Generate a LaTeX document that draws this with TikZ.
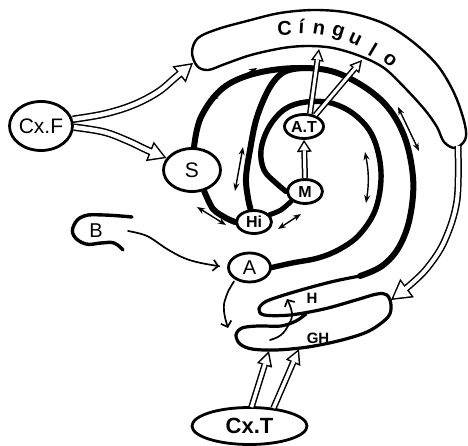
\documentclass[tikz,border=0pt]{standalone}
\usepackage{fontspec}
\setmainfont{Liberation Sans}
\usetikzlibrary{arrows.meta,calc,shapes.geometric}
\pgfdeclarelayer{bg}
\pgfsetlayers{bg,main}
\begin{document}
\begin{tikzpicture}[x=1pt,y=-1pt,
  el/.style={ellipse, draw, line width=2.8pt, fill=white, inner sep=0pt},
  fib/.style={line width=6pt, line cap=round, line join=round},
  outl/.style={line width=3.2pt, line cap=round, line join=round},
  band/.style={line width=2.4pt, line join=round},
  dbl/.style={line width=1.4pt, {Stealth[length=8pt,width=6pt]}-{Stealth[length=8pt,width=6pt]}},
  tarrow/.style={line width=1.7pt, line cap=round, -{Straight Barb[length=5pt,width=11pt,line width=1.7pt]}},
  % #1 inner width, #2 outer width, #3 L, #4 W, #5 inset, #6 inner L, #7 inner W
  harrow/.style n args={7}{draw=white, line width=#1, shorten >=#5,
    -{Triangle[length=#6,width=#7,line width=0pt]},
    preaction={draw=black, line width=#2, shorten >=0pt,
      -{Triangle[length=#3,width=#4,line width=0pt]}}},
  cing/.style={font=\bfseries\fontsize{20pt}{22pt}\selectfont, inner sep=0pt}
]
\useasboundingbox (0,0) rectangle (468,446);

% ---- nodes
\node[el, minimum width=63pt, minimum height=49pt, font=\fontsize{21pt}{23pt}\selectfont] (cxf) at (41,126) {Cx.F};
\node[el, minimum width=57pt, minimum height=43pt, font=\fontsize{21pt}{23pt}\selectfont] (s) at (192,170) {S};
\node[el, minimum width=35pt, minimum height=23pt, font=\bfseries\fontsize{16pt}{18pt}\selectfont] (hi) at (254,222) {Hi};
\node[el, minimum width=35pt, minimum height=24pt, font=\bfseries\fontsize{16pt}{18pt}\selectfont] (m) at (305,191.5) {M};
\node[el, minimum width=39pt, minimum height=24pt, font=\bfseries\fontsize{16pt}{18pt}\selectfont] (at) at (304,126.5) {A.T};
\node[el, minimum width=42pt, minimum height=29pt, font=\fontsize{20pt}{22pt}\selectfont] (a) at (249.5,267.5) {A};
\node[el, minimum width=115pt, minimum height=37pt, font=\bfseries\fontsize{22pt}{24pt}\selectfont] (cxt) at (249.5,426) {Cx.T};
\node[font=\fontsize{20pt}{22pt}\selectfont, inner sep=0pt] (b) at (96,231) {B};
\node[font=\bfseries\fontsize{15pt}{17pt}\selectfont, inner sep=0pt] (hlab) at (312,298) {H};
\node[font=\bfseries\fontsize{15pt}{17pt}\selectfont, inner sep=0pt] (ghlab) at (318,338) {GH};

% ---- coordinates
\coordinate (cingl) at (193,63);
\coordinate (cingr) at (458,146);
\coordinate (ghr) at (391,300);
\coordinate (at1) at (319,49);
\coordinate (at2) at (362,60);
\coordinate (gh1) at (269,351);
\coordinate (gh2) at (299,349);
\coordinate (bstart) at (128,231);
\coordinate (adown) at (228,328);
\coordinate (ghs) at (270,340);
\coordinate (htip) at (287,299);
\coordinate (fa) at (302,68);
\coordinate (hend) at (360,276);

\begin{pgfonlayer}{bg}
% Cingulo band
\draw[band, fill=white] plot[smooth cycle, tension=0.55] coordinates {(192,52) (198,38) (218,29) (247,21) (280,13) (315,10) (350,13) (385,24) (413,42) (438,66) (455,95) (465,125) (465,140) (455,148) (444,142) (437,127) (425,110) (405,88) (384,68) (360,56) (333,48) (308,46) (283,48) (251,55) (225,64) (208,70) (197,66)};
% thick curves
\draw[fib] plot[smooth, tension=0.6] coordinates {(s.85) (201,117) (223,88) (257,73) (fa) (340,74) (380,99) (403,133) (413,177) (410,217) (399,247) (382,266) (hend)};
\draw[fib] plot[smooth, tension=0.6] coordinates {(fa) (284,72) (270,87) (257,117) (250,150) (246,178) (248,198) (hi.105)};
\draw[fib, line width=5.4pt] plot[smooth, tension=0.6] coordinates {(a.east) (292,263) (318,258) (340,249) (360,234) (376,208) (381,172) (373,137) (355,115) (331,103) (306,102) (285,109) (269,127) (261,150) (264,170) (276,183) (m.west)};
\draw[fib] plot[smooth] coordinates {(s.-60) (213,209) (226,218) (hi.west)};
\draw[fib, line width=5pt] plot[smooth] coordinates {(hi.25) (281,210) (m.-145)};
% H / GH outline
\draw[outl] plot[smooth, tension=0.55] coordinates {(hend) (335,281) (308,288) (281,296) (265,302) (259,309) (264,315) (290,315) (324,309) (356,300) (377,294) (387,295) (391,305) (388,317) (369,331) (342,340) (308,347) (276,350) (252,349) (240,344) (236,335) (242,328) (258,326) (281,326) (296,321) (306,314)};
% B shape
\draw[line width=3.4pt, line cap=round] plot[smooth, tension=0.7] coordinates {(132,217) (104,215) (84,216) (74,225) (74,236) (86,244) (101,243) (114,243) (123,250)};
\end{pgfonlayer}

% ---- small double arrows
\draw[dbl] (211,101) to[bend left=6] (257,68);
\draw[dbl] (243,147) -- (235,191);
\draw[dbl] (197,207) -- (226,225);
\draw[dbl] (278,229) -- (301,214);
\draw[dbl] (365,152) to[bend left=10] (366,203);
\draw[dbl] (398,107) -- (419,151);

% ---- thin arrows
\draw[tarrow, shorten >=8pt] plot[smooth, tension=0.6] coordinates {(bstart) (147,236) (167,249) (184,258) (201,263) (a.west)};
\draw[tarrow, shorten <=2pt] plot[smooth, tension=0.7] coordinates {(a.-140) (226,297) (224,311) (adown)};
\draw[tarrow] plot[smooth, tension=0.7] coordinates {(ghs) (281,335) (289,324) (292,313) (htip)};

% ---- hollow arrows
\draw[harrow={4.5pt}{7.5pt}{18pt}{21pt}{3pt}{13.5pt}{15.8pt}] plot[smooth, tension=0.6] coordinates {(cxf.-2) (104,132) (128,141) (147,150) (s.155)};
\draw[harrow={4.5pt}{7.5pt}{18pt}{21pt}{3pt}{13.5pt}{15.8pt}] plot[smooth, tension=0.6] coordinates {(cxf.12) (104,114) (133,105) (158,92) (176,77) (cingl)};
\draw[harrow={3pt}{6pt}{12pt}{15pt}{2.8pt}{7.7pt}{9.6pt}] (m.north) -- (at.south);
\draw[harrow={3pt}{6pt}{12pt}{13pt}{3.15pt}{7.35pt}{8pt}] (at.65) -- (at1);
\draw[harrow={3pt}{6pt}{12pt}{13pt}{3.15pt}{7.35pt}{8pt}] (at.45) -- (at2);
\draw[harrow={4pt}{7pt}{20pt}{23pt}{3pt}{15.5pt}{17.8pt}] plot[smooth, tension=0.6] coordinates {(cingr) (457,200) (445,240) (428,267) (410,285) (ghr)};
\draw[harrow={3.5pt}{6.5pt}{15pt}{16pt}{3.2pt}{10.3pt}{11pt}] ($(cxt.north)+(2,1)$) -- (gh1);
\draw[harrow={3.5pt}{6.5pt}{15pt}{16pt}{3.2pt}{10.3pt}{11pt}] ($(cxt.north)+(24,2)$) -- (gh2);

% ---- Cingulo lettering
\foreach \ch/\x/\y/\r [count=\i] in {C/284.5/28.5/2, í/301.5/26.5/-3, n/319/29.5/-9, g/338/33.5/-17, u/355/39.5/-25, l/373/49.5/-31, o/390/60.5/-38}
  \node[cing, rotate=\r] (cing\i) at (\x,\y) {\ch};
\end{tikzpicture}
\end{document}
